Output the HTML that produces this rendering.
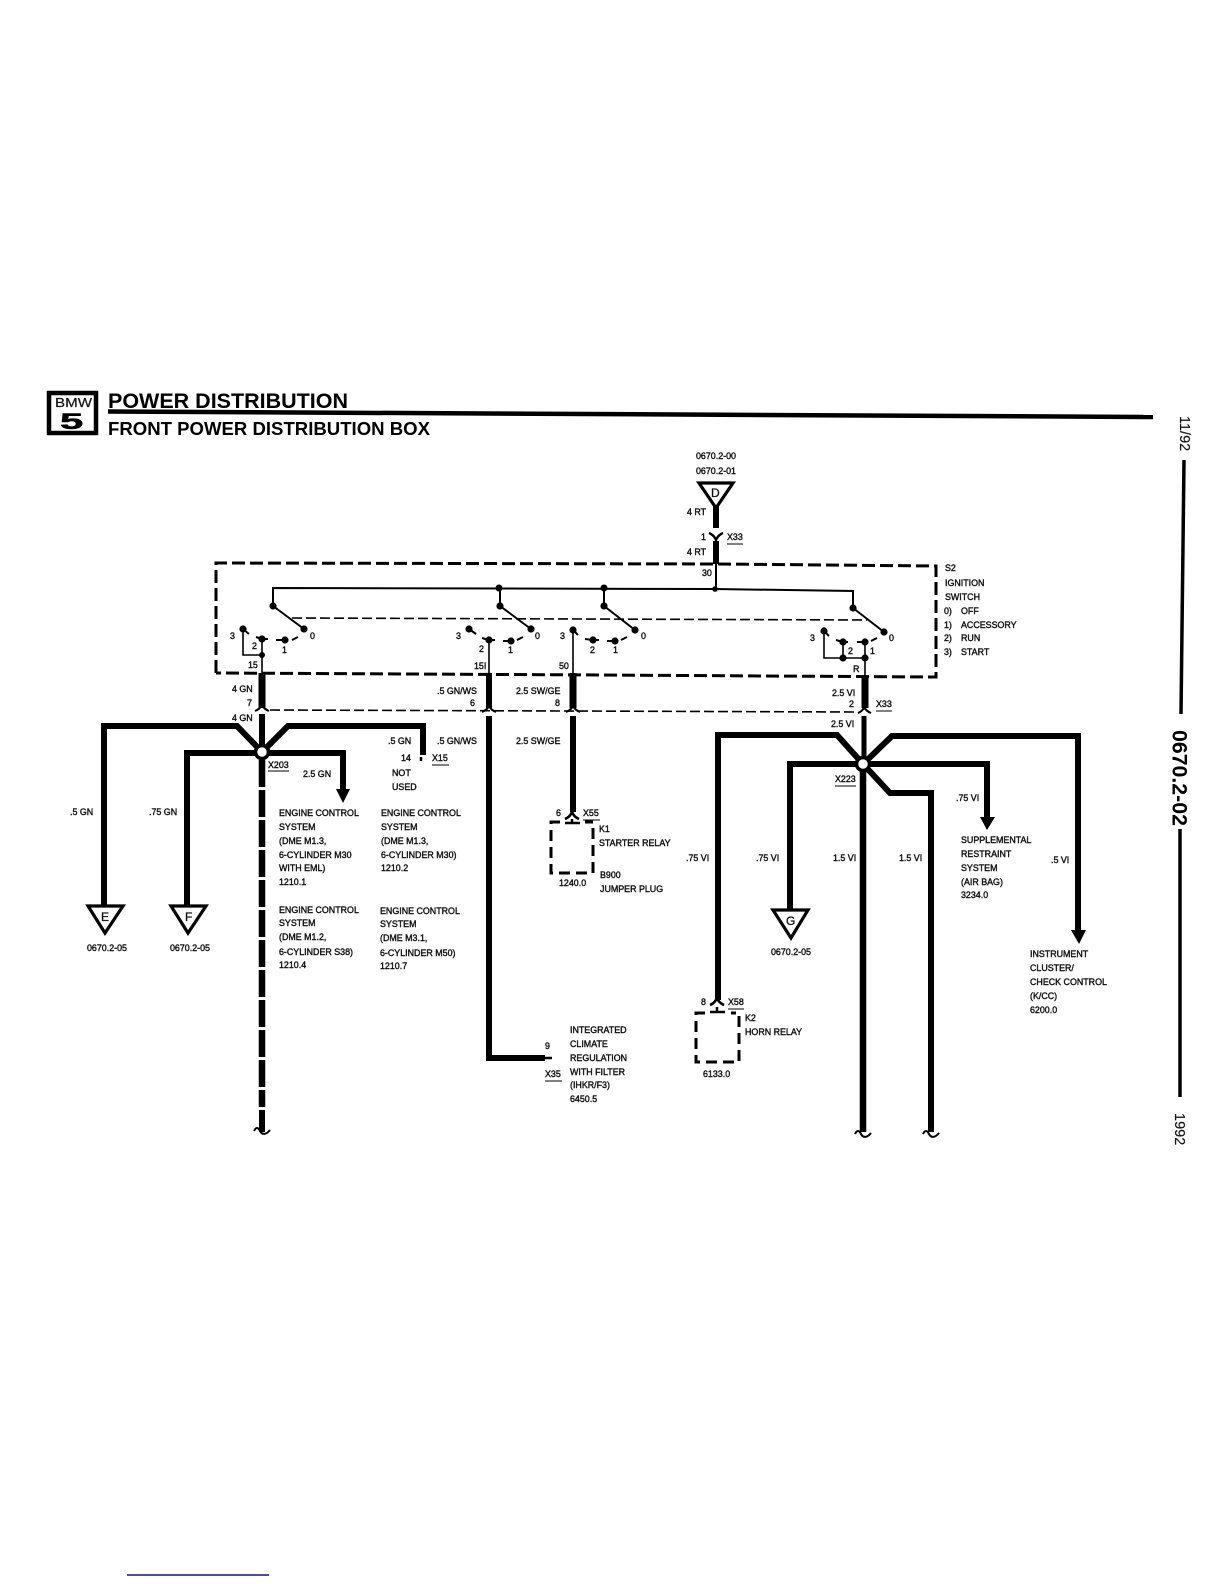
<!DOCTYPE html>
<html><head><meta charset="utf-8"><style>
html,body{margin:0;padding:0;background:#fff}
svg{display:block}
text{font-family:"Liberation Sans",sans-serif;font-size:8.9px;fill:#111;stroke:#111;stroke-width:.4}
.h{stroke-width:0;font-weight:bold;fill:#000}
.w{fill:none;stroke:#000;stroke-width:6}
.n{fill:none;stroke:#000;stroke-width:1.6}
.d{fill:none;stroke:#000;stroke-width:3;stroke-dasharray:13 5}
.l{fill:none;stroke:#000;stroke-width:1.6;stroke-dasharray:10 4}
.u{stroke:#000;stroke-width:1}
.c{fill:none;stroke:#000;stroke-width:2}
</style></head><body>
<svg width="1224" height="1584" viewBox="0 0 1224 1584" xmlns="http://www.w3.org/2000/svg">
<rect width="1224" height="1584" fill="#fff"/>
<!-- header -->
<rect x="49" y="393" width="47" height="40" fill="none" stroke="#000" stroke-width="4.5"/>
<text x="55" y="407" textLength="37" lengthAdjust="spacingAndGlyphs" style="font-size:12.5px;stroke-width:.2">BMW</text>
<text transform="translate(60,429) scale(1.9,1)" class="h" style="font-size:22px;stroke:#000;stroke-width:.5">5</text>
<path d="M108 411.5L1153 417" stroke="#000" stroke-width="4.5" fill="none"/>
<text x="108" y="408" class="h" textLength="240" lengthAdjust="spacingAndGlyphs" style="font-size:21px">POWER DISTRIBUTION</text>
<text x="108" y="435" class="h" textLength="322" lengthAdjust="spacingAndGlyphs" style="font-size:18px">FRONT POWER DISTRIBUTION BOX</text>
<!-- side -->
<text transform="translate(1180,416) rotate(90)" style="font-size:14.5px;stroke-width:.15">11/92</text>
<path d="M1184 460L1181 714" fill="none" stroke="#000" stroke-width="3.5"/>
<text transform="translate(1172.5,730) rotate(90)" class="h" style="font-size:21.3px">0670.2-02</text>
<path d="M1180 829V1097" fill="none" stroke="#000" stroke-width="3.5"/>
<text transform="translate(1175,1113) rotate(90)" style="font-size:14.5px;stroke-width:.15">1992</text>
<path d="M127 1575H269" stroke="#10108a" stroke-width="1.6" fill="none"/>

<!-- dashed switch box -->
<path class="d" d="M216 673V563L716 564L936 566V677L600 675L216 673"/>
<!-- bus -->
<path class="n" d="M273 606V588L715 589L853 591V608" style="stroke-width:2"/>
<path class="n" d="M500 588V606M604 588V606M716 564V589" style="stroke-width:2"/>
<!-- ganged dashed link -->
<path class="l" d="M292 618L867 620"/>
<path class="l" d="M270 710L857 712"/>
<!-- switch arms -->
<path class="c" d="M273 606L304 629M500 606L531 629M604 606L635 630M853 608L884 632"/>
<!-- contacts ticks -->
<path class="c" d="M243 629L249 634M256 637L262 639M262 639H268M276 640L285 640M292 640L298 637
M469 629L476 634M482 638L489 640M489 640H495M503 641H511M517 640L523 637
M573 630L578 635M585 639L593 640M593 640H599M607 641H615M621 640L627 637
M824 631L829 636M836 640L843 642M843 642H848M857 642H865M871 641L877 638"/>
<!-- contact wiring -->
<path class="n" d="M243 629V655H262M262 639V673"/>
<path class="n" d="M489 640V673M573 630V673"/>
<path class="n" d="M824 631V658H865M843 642V658M865 642V677"/>
<g fill="#000">
<circle cx="499" cy="588" r="3.5"/><circle cx="604" cy="588" r="3.5"/><circle cx="715" cy="589" r="2.8"/>
<circle cx="273" cy="606" r="3.6"/><circle cx="500" cy="606" r="3.6"/><circle cx="604" cy="606" r="3.6"/><circle cx="853" cy="608" r="3.6"/>
<circle cx="304" cy="629" r="3.6"/><circle cx="531" cy="629" r="3.6"/><circle cx="635" cy="630" r="3.6"/><circle cx="884" cy="632" r="3.6"/>
<circle cx="243" cy="629" r="3.6"/><circle cx="262" cy="639" r="3.6"/><circle cx="285" cy="640" r="3.6"/>
<circle cx="469" cy="629" r="3.6"/><circle cx="489" cy="640" r="3.6"/><circle cx="511" cy="641" r="3.6"/>
<circle cx="573" cy="630" r="3.6"/><circle cx="593" cy="640" r="3.6"/><circle cx="615" cy="641" r="3.6"/>
<circle cx="824" cy="631" r="3.6"/><circle cx="843" cy="642" r="3.6"/><circle cx="865" cy="642" r="3.6"/>
<circle cx="262" cy="655" r="3"/><circle cx="843" cy="658" r="3.6"/><circle cx="865" cy="658" r="3.6"/>
</g>

<!-- top feed -->
<path class="w" d="M716 506V528M716 541V564"/>
<path class="c" d="M709 533Q714 535 716 540Q718 535 723 533" style="stroke-width:2.4"/>
<path d="M699 483H733L716 508Z" fill="#fff" stroke="#000" stroke-width="3.2"/>
<text x="711" y="497" style="font-size:12px;stroke-width:.3">D</text>

<!-- thick wires below switch -->
<path class="w" d="M262 673V708" style="stroke-width:7"/>
<path class="w" d="M489 673V708"/>
<path class="w" d="M573 673V708" style="stroke-width:7"/>
<path class="w" d="M865 677V708" style="stroke-width:7"/>
<!-- connector forks -->
<path class="c" d="M255 711Q260 709 262 705Q264 709 269 711M482 712Q487 710 489 706Q491 710 496 712M566 712Q571 710 573 706Q575 710 580 712M858 713Q863 711 864 707Q866 711 871 713"/>
<path class="w" d="M262 714V750" />
<path class="w" d="M489 716V1058H545"/>
<path d="M545 1058H552" stroke="#000" stroke-width="2.5"/>
<path class="w" d="M573 716V812"/>
<path class="w" d="M864 716V764" style="stroke-width:5"/>

<!-- node 1 wiring -->
<path class="w" d="M104 906V726H237L262 752"/>
<path class="w" d="M187 906V753H262"/>
<path class="w" d="M262 752L288 726H423V755"/>
<path d="M421 757V761" stroke="#000" stroke-width="2.5"/>
<path class="w" d="M262 753H343V790"/>
<path d="M336 789H350L343 803Z" fill="#000"/>
<path class="w" d="M262 760V1107" style="stroke-dasharray:27 3;stroke-width:6.5"/>
<path class="w" d="M262 1110V1132"/>
<path class="c" d="M254 1131C256 1127 258 1127 260 1131C262 1135 266 1135 270 1130"/>
<circle cx="262" cy="752" r="6.5" fill="#fff" stroke="#000" stroke-width="3.5"/>
<path d="M88 906H123L105 933Z" fill="#fff" stroke="#000" stroke-width="3.2"/>
<text x="101" y="921" style="font-size:12px;stroke-width:.3">E</text>
<path d="M171 906H206L188 933Z" fill="#fff" stroke="#000" stroke-width="3.2"/>
<text x="185" y="921" style="font-size:12px;stroke-width:.3">F</text>

<!-- node 2 wiring -->
<path class="w" d="M718 1000V735H837L863 764"/>
<path class="w" d="M790 910V764H863"/>
<path class="w" d="M863 764L892 736H1078V931"/>
<path d="M1071 930H1086L1079 944Z" fill="#000"/>
<path class="w" d="M863 764H987V818"/>
<path d="M980 817H995L987 830Z" fill="#000"/>
<path class="w" d="M863 764L890 793H931V1132"/>
<path class="w" d="M863 770V1132" style="stroke-width:6.5"/>
<path class="c" d="M855 1134C857 1130 859 1130 861 1134C863 1138 867 1138 871 1133"/>
<path class="c" d="M923 1134C925 1130 927 1130 929 1134C931 1138 935 1138 939 1133"/>
<circle cx="863" cy="764" r="6.5" fill="#fff" stroke="#000" stroke-width="3.5"/>
<path d="M773 910H808L791 938Z" fill="#fff" stroke="#000" stroke-width="3.2"/>
<text x="786" y="925" style="font-size:12px;stroke-width:.3">G</text>

<!-- relays -->
<path class="c" d="M565 819Q570 817 572 812Q574 817 579 819" style="stroke-width:2.6"/>
<path d="M565 823H580M572 819V823" stroke="#000" stroke-width="2.5" fill="none"/>
<path class="d" d="M560 822H551V873H593V822H585" style="stroke-dasharray:11 6"/>
<path class="c" d="M710 1005Q715 1003 717 998Q719 1003 724 1005" style="stroke-width:2.6"/>
<path d="M710 1012H725M717 1007V1012" stroke="#000" stroke-width="2.5" fill="none"/>
<path class="d" d="M705 1013H696V1062H739V1013H731" style="stroke-dasharray:11 6"/>

<!-- labels: top -->
<text x="696" y="459">0670.2-00</text><text x="696" y="474">0670.2-01</text>
<text x="687" y="515">4 RT</text><text x="701" y="540">1</text>
<text x="727" y="540">X33</text><path class="u" d="M727 544H743"/>
<text x="687" y="555">4 RT</text><text x="702" y="576">30</text>
<text x="945" y="571">S2</text><text x="945" y="586">IGNITION</text><text x="945" y="600">SWITCH</text>
<text x="944" y="614">0)</text><text x="961" y="614">OFF</text>
<text x="944" y="628">1)</text><text x="961" y="628">ACCESSORY</text>
<text x="944" y="641">2)</text><text x="961" y="641">RUN</text>
<text x="944" y="655">3)</text><text x="961" y="655">START</text>
<!-- switch numbers -->
<text x="230" y="639">3</text><text x="252" y="649">2</text><text x="282" y="653">1</text><text x="310" y="639">0</text><text x="248" y="668">15</text>
<text x="456" y="639">3</text><text x="479" y="652">2</text><text x="508" y="653">1</text><text x="535" y="639">0</text><text x="474" y="669">15I</text>
<text x="560" y="639">3</text><text x="590" y="653">2</text><text x="613" y="653">1</text><text x="641" y="639">0</text><text x="559" y="669">50</text>
<text x="810" y="641">3</text><text x="848" y="654">2</text><text x="870" y="654">1</text><text x="889" y="641">0</text><text x="853" y="672">R</text>
<!-- wire labels -->
<text x="232" y="692">4 GN</text><text x="247" y="706">7</text><text x="232" y="721">4 GN</text>
<text x="437" y="694">.5 GN/WS</text><text x="470" y="706">6</text>
<text x="516" y="694">2.5 SW/GE</text><text x="555" y="706">8</text>
<text x="832" y="696">2.5 VI</text><text x="849" y="707">2</text>
<text x="876" y="707">X33</text><path class="u" d="M876 711H892"/>
<text x="831" y="727">2.5 VI</text>
<text x="388" y="744">.5 GN</text><text x="437" y="744">.5 GN/WS</text><text x="516" y="744">2.5 SW/GE</text>
<text x="401" y="761">14</text><text x="432" y="761">X15</text><path class="u" d="M432 765H449"/>
<text x="392" y="776">NOT</text><text x="392" y="790">USED</text>
<text x="268" y="768">X203</text><path class="u" d="M268 771H289"/>
<text x="303" y="777">2.5 GN</text>
<text x="70" y="815">.5 GN</text><text x="149" y="815">.75 GN</text>
<text x="87" y="951">0670.2-05</text><text x="170" y="951">0670.2-05</text>
<!-- engine blocks -->
<text x="279" y="816">ENGINE CONTROL</text><text x="279" y="830">SYSTEM</text><text x="279" y="844">(DME M1.3,</text><text x="279" y="858">6-CYLINDER M30</text><text x="279" y="871">WITH EML)</text><text x="279" y="885">1210.1</text>
<text x="381" y="816">ENGINE CONTROL</text><text x="381" y="830">SYSTEM</text><text x="381" y="844">(DME M1.3,</text><text x="381" y="858">6-CYLINDER M30)</text><text x="381" y="871">1210.2</text>
<text x="279" y="913">ENGINE CONTROL</text><text x="279" y="926">SYSTEM</text><text x="279" y="940">(DME M1.2,</text><text x="279" y="955">6-CYLINDER S38)</text><text x="279" y="968">1210.4</text>
<text x="380" y="914">ENGINE CONTROL</text><text x="380" y="927">SYSTEM</text><text x="380" y="941">(DME M3.1,</text><text x="380" y="956">6-CYLINDER M50)</text><text x="380" y="969">1210.7</text>
<!-- K1 -->
<text x="556" y="816">6</text><text x="583" y="816">X55</text><path class="u" d="M583 820H600"/>
<text x="599" y="832">K1</text><text x="599" y="846">STARTER RELAY</text>
<text x="600" y="878">B900</text><text x="600" y="892">JUMPER PLUG</text><text x="559" y="886">1240.0</text>
<!-- climate -->
<text x="545" y="1049">9</text><text x="545" y="1077">X35</text><path class="u" d="M545 1081H562"/>
<text x="570" y="1033">INTEGRATED</text><text x="570" y="1047">CLIMATE</text><text x="570" y="1061">REGULATION</text><text x="570" y="1075">WITH FILTER</text><text x="570" y="1088">(IHKR/F3)</text><text x="570" y="1102">6450.5</text>
<!-- right labels -->
<text x="835" y="782">X223</text><path class="u" d="M835 786H856"/>
<text x="956" y="801">.75 VI</text>
<text x="686" y="861">.75 VI</text><text x="756" y="861">.75 VI</text><text x="833" y="861">1.5 VI</text><text x="899" y="861">1.5 VI</text><text x="1051" y="863">.5 VI</text>
<text x="961" y="843">SUPPLEMENTAL</text><text x="961" y="857">RESTRAINT</text><text x="961" y="871">SYSTEM</text><text x="961" y="885">(AIR BAG)</text><text x="961" y="898">3234.0</text>
<text x="771" y="955">0670.2-05</text>
<text x="1030" y="957">INSTRUMENT</text><text x="1030" y="971">CLUSTER/</text><text x="1030" y="985">CHECK CONTROL</text><text x="1030" y="999">(K/CC)</text><text x="1030" y="1013">6200.0</text>
<text x="701" y="1005">8</text><text x="728" y="1005">X58</text><path class="u" d="M728 1009H744"/>
<text x="745" y="1021">K2</text><text x="745" y="1035">HORN RELAY</text><text x="703" y="1077">6133.0</text>
</svg>
</body></html>
